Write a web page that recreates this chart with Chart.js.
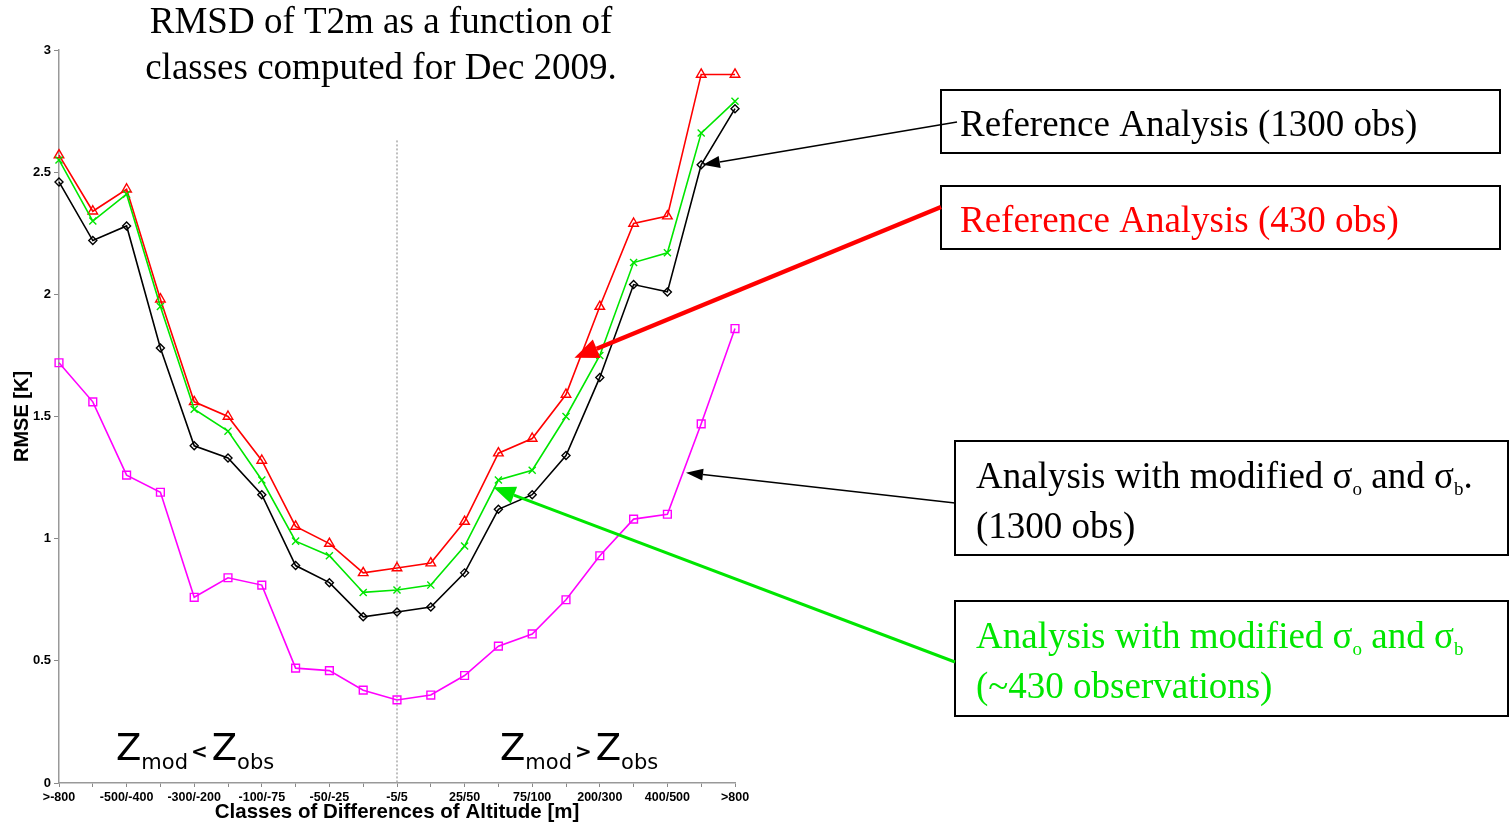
<!DOCTYPE html>
<html><head><meta charset="utf-8">
<script src="https://cdn.jsdelivr.net/npm/chart.js@4.4.1/dist/chart.umd.min.js"></script>
<style>html,body{margin:0;padding:0;background:#fff;overflow:hidden}</style>
</head><body>
<canvas id="c" width="1509" height="825" style="width:1509px;height:825px;display:block"></canvas>
<script>
// ---- data ----
const categories = [">-800","-800/-500","-500/-400","-400/-300","-300/-200","-200/-100","-100/-75","-75/-50","-50/-25","-25/-5","-5/5","5/25","25/50","50/75","75/100","100/200","200/300","300/400","400/500","500/800",">800"];
const tickLabels = [">-800","","-500/-400","","-300/-200","","-100/-75","","-50/-25","","-5/5","","25/50","","75/100","","200/300","","400/500","",">800"];
const refAnalysis1300 = [2.46,2.22,2.28,1.78,1.38,1.33,1.18,0.89,0.82,0.68,0.70,0.72,0.86,1.12,1.18,1.34,1.66,2.04,2.01,2.53,2.76];
const refAnalysis430  = [2.57,2.34,2.43,1.98,1.56,1.50,1.32,1.05,0.98,0.86,0.88,0.90,1.07,1.35,1.41,1.59,1.95,2.29,2.32,2.90,2.90];
const modified430     = [2.55,2.30,2.41,1.95,1.53,1.44,1.24,0.99,0.93,0.78,0.79,0.81,0.97,1.24,1.28,1.50,1.75,2.13,2.17,2.66,2.79];
const modified1300    = [1.72,1.56,1.26,1.19,0.76,0.84,0.81,0.47,0.46,0.38,0.34,0.36,0.44,0.56,0.61,0.75,0.93,1.08,1.10,1.47,1.86];
const yTicks = [0,0.5,1,1.5,2,2.5,3];
const yTickLabels = ["0","0.5","1","1.5","2","2.5","3"];

const SERIF = "'Liberation Serif','Times New Roman',serif";
const SANS = "'Liberation Sans',Arial,sans-serif";
const GREEN = '#00e600';

function arrow(ctx, x1, y1, x2, y2, color, lw, hl, hw) {
  const a = Math.atan2(y2 - y1, x2 - x1);
  const bx = x2 - hl * Math.cos(a), by = y2 - hl * Math.sin(a);
  ctx.save();
  ctx.strokeStyle = color; ctx.fillStyle = color; ctx.lineWidth = lw;
  ctx.beginPath(); ctx.moveTo(x1, y1); ctx.lineTo(bx, by); ctx.stroke();
  ctx.beginPath();
  ctx.moveTo(x2, y2);
  ctx.lineTo(bx + hw * Math.sin(a), by - hw * Math.cos(a));
  ctx.lineTo(bx - hw * Math.sin(a), by + hw * Math.cos(a));
  ctx.closePath(); ctx.fill();
  ctx.restore();
}

// text with subscripts: parts = [[text, isSub], ...]
function richText(ctx, parts, x, y, size, color) {
  ctx.save();
  ctx.fillStyle = color; ctx.textBaseline = 'alphabetic'; ctx.textAlign = 'left';
  let cx = x;
  for (const [t, sub] of parts) {
    ctx.font = (sub ? Math.round(size * 0.5) : size) + 'px ' + SERIF;
    ctx.fillText(t, cx, sub ? y + size * 0.2 : y);
    cx += ctx.measureText(t).width;
  }
  ctx.restore();
}

function zText(ctx, x, y, rel) {
  const F = "'DejaVu Sans',sans-serif";
  ctx.save();
  ctx.fillStyle = '#000'; ctx.textBaseline = 'alphabetic'; ctx.textAlign = 'left';
  let cx = x;
  ctx.font = '37px ' + F; ctx.fillText('Z', cx, y); cx += ctx.measureText('Z').width;
  ctx.font = '21px ' + F; ctx.fillText('mod', cx, y + 9); cx += ctx.measureText('mod').width + 3;
  ctx.font = 'bold 20px ' + F; ctx.fillText(rel, cx, y - 2); cx += ctx.measureText(rel).width + 4;
  ctx.font = '37px ' + F; ctx.fillText('Z', cx, y); cx += ctx.measureText('Z').width;
  ctx.font = '21px ' + F; ctx.fillText('obs', cx, y + 9);
  ctx.restore();
}

const annotations = {
  id: 'annotations',
  beforeDatasetsDraw(chart) {
    const ctx = chart.ctx, xs = chart.scales.x, ys = chart.scales.y;
    const xm = xs.getPixelForValue(10);
    ctx.save();
    ctx.strokeStyle = '#aaaaaa'; ctx.lineWidth = 1.5; ctx.setLineDash([2, 2]);
    ctx.beginPath(); ctx.moveTo(xm, ys.getPixelForValue(2.63)); ctx.lineTo(xm, ys.getPixelForValue(0)); ctx.stroke();
    ctx.restore();
  },
  afterDraw(chart) {
    const ctx = chart.ctx, xs = chart.scales.x, ys = chart.scales.y;
    // title
    ctx.save();
    ctx.fillStyle = '#000'; ctx.textAlign = 'center'; ctx.textBaseline = 'alphabetic';
    ctx.font = '37px ' + SERIF;
    ctx.fillText('RMSD of T2m as a function of', 381, 33);
    ctx.fillText('classes computed for Dec 2009.', 381, 79);
    ctx.restore();

    // Z labels
    zText(ctx, 116, 760, '<');
    zText(ctx, 500, 760, '>');

    // boxes
    ctx.save();
    ctx.strokeStyle = '#000'; ctx.lineWidth = 2;
    ctx.strokeRect(941, 90, 559, 63);
    ctx.strokeRect(941, 186, 559, 63);
    ctx.strokeRect(955, 441, 553, 114);
    ctx.strokeRect(955, 601, 553, 115);
    ctx.restore();
    richText(ctx, [['Reference Analysis (1300 obs)', false]], 960, 136, 37, '#000');
    richText(ctx, [['Reference Analysis (430 obs)', false]], 960, 232, 37, '#ff0000');
    richText(ctx, [['Analysis with modified σ', false], ['o', true], [' and σ', false], ['b', true], ['.', false]], 976, 488, 37, '#000');
    richText(ctx, [['(1300 obs)', false]], 976, 538, 37, '#000');
    richText(ctx, [['Analysis with modified σ', false], ['o', true], [' and σ', false], ['b', true]], 976, 648, 37, GREEN);
    richText(ctx, [['(~430 observations)', false]], 976, 698, 37, GREEN);

    // arrows pointing at the series
    arrow(ctx, 957, 122, xs.getPixelForValue(19.05), ys.getPixelForValue(2.53), '#000', 1.5, 17, 6);
    arrow(ctx, 941, 207, xs.getPixelForValue(15.25), ys.getPixelForValue(1.74), '#ff0000', 4.5, 24, 10);
    arrow(ctx, 955, 503, xs.getPixelForValue(18.55), ys.getPixelForValue(1.27), '#000', 1.5, 17, 6);
    arrow(ctx, 955, 662, xs.getPixelForValue(12.85), ys.getPixelForValue(1.21), GREEN, 3, 22, 9);
  }
};

function ds(label, data, color, style, r) {
  return {
    label, data, borderColor: color, backgroundColor: 'rgba(0,0,0,0)',
    borderWidth: 1.6, pointStyle: style, pointRadius: r, pointBorderColor: color,
    pointBackgroundColor: 'rgba(0,0,0,0)', pointBorderWidth: 1.4, tension: 0
  };
}

new Chart(document.getElementById('c'), {
  type: 'line',
  data: {
    labels: categories,
    datasets: [
      ds('Analysis with modified σo and σb (1300 obs)', modified1300, '#ff00ff', 'rect', 5.5),
      ds('Reference Analysis (1300 obs)', refAnalysis1300, '#000000', 'rectRot', 4),
      ds('Analysis with modified σo and σb (~430 observations)', modified430, GREEN, 'crossRot', 5),
      ds('Reference Analysis (430 obs)', refAnalysis430, '#ff0000', 'triangle', 5.5)
    ]
  },
  options: {
    responsive: false, animation: false, devicePixelRatio: 1,
    layout: { padding: { left: 0, right: 1509 - 735, top: 50, bottom: 0 } },
    plugins: { legend: { display: false }, tooltip: { enabled: false }, title: { display: false } },
    scales: {
      x: {
        type: 'category', offset: false,
        grid: { display: true, drawOnChartArea: false, drawTicks: true, tickLength: 4, color: '#888', lineWidth: 1 },
        border: { display: true, color: '#999', width: 1.5 },
        ticks: { autoSkip: false, maxRotation: 0, minRotation: 0, padding: 3, color: '#000',
                 font: { family: SANS, size: 12.5, weight: 'bold' },
                 callback: (v, i) => tickLabels[i] },
        title: { display: true, text: 'Classes of Differences of Altitude [m]', color: '#000',
                 font: { family: SANS, size: 20.5, weight: 'bold' }, padding: { top: 0, bottom: 0 } },
        afterFit: s => { s.height = 42; }
      },
      y: {
        min: 0, max: 3,
        afterBuildTicks: s => { s.ticks = yTicks.map(v => ({ value: v })); },
        grid: { display: true, drawOnChartArea: false, drawTicks: true, tickLength: 5, color: '#888', lineWidth: 1 },
        border: { display: true, color: '#999', width: 1.5 },
        ticks: { padding: 3, color: '#000', font: { family: SANS, size: 13, weight: 'bold' },
                 callback: (v, i) => yTickLabels[i] },
        title: { display: true, text: 'RMSE [K]', color: '#000',
                 font: { family: SANS, size: 20, weight: 'bold' }, padding: { top: 10, bottom: 0 } },
        afterFit: s => { s.width = 59; }
      }
    }
  },
  plugins: [annotations]
});
</script>
</body></html>
